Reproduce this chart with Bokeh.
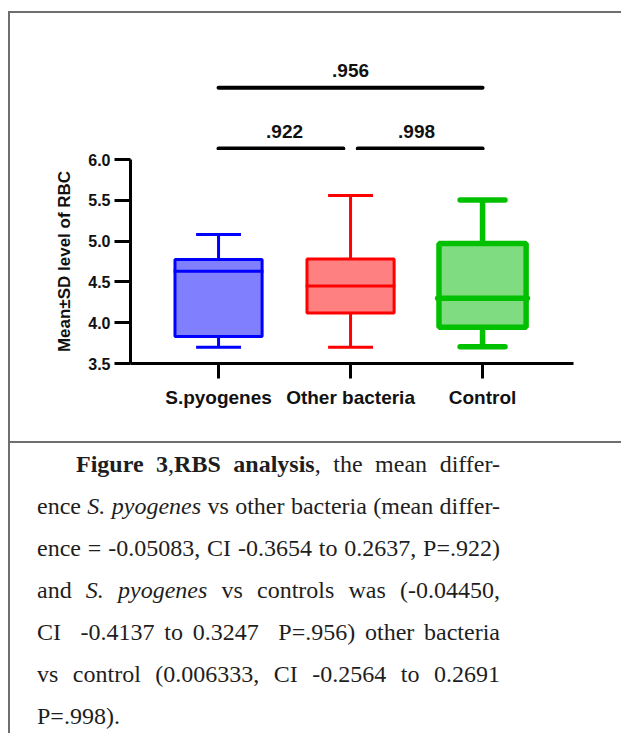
from bokeh.plotting import figure
from bokeh.models import FixedTicker, Div, Range1d, Spacer
from bokeh.layouts import column, row
from bokeh.embed import file_html
from bokeh.resources import INLINE
from bokeh.core.properties import value

# ---------------- data ----------------
categories = ["S.pyogenes", "Other bacteria", "Control"]
positions = [1, 2, 3]
q1 = [3.83, 4.12, 3.945]
median = [4.63, 4.45, 4.30]
q3 = [4.775, 4.78, 4.97]
whisker_low = [3.70, 3.70, 3.705]
whisker_high = [5.08, 5.56, 5.505]

y_ticks = [3.5, 4.0, 4.5, 5.0, 5.5, 6.0]
y_tick_labels = ["3.5", "4.0", "4.5", "5.0", "5.5", "6.0"]
y_title = "Mean±SD level of RBC"

comp_left = [1, 2, 1]
comp_right = [2, 3, 3]
comp_level = [6.135, 6.135, 6.88]
comp_p = [".922", ".998", ".956"]

caption_lines = [
    "<b>Figure 3</b>,<b>RBS analysis</b>, the mean differ-",
    "ence <i>S. pyogenes</i> vs other bacteria (mean differ-",
    "ence = -0.05083, CI -0.3654 to 0.2637, P=.922)",
    "and <i>S. pyogenes</i> vs controls was (-0.04450,",
    "CI &nbsp;-0.4137 to 0.3247 &nbsp;P=.956) other bacteria",
    "vs control (0.006333, CI -0.2564 to 0.2691",
    "P=.998).",
]

# ---------------- style ----------------
stroke = ["#0000FF", "#FF0000", "#00C000"]
fill = ["#8080FF", "#FF8080", "#80DC80"]
lw = [3, 3, 5.5]
caps = ["butt", "butt", "round"]
box_w = 0.66
cap_w = 0.34
gap = 0.055
FONT = "Liberation Sans"
GRAY = "#6e6e6e"
BORDER = f"2px solid {GRAY}"

LEFT = 8           # page x of the frame's left rule
TOP = 11           # page y of the frame's top rule
W = 611            # width of both chart figures
H_TOP = 137        # significance-bar strip
H_MAIN = 291       # box-plot figure
MT_MAIN = 9
PX_PER_UNIT = 81.6
ML, MR = 120, 48
x_range = Range1d(0.333, 3.689)


def clean(fig):
    fig.grid.visible = False
    fig.outline_line_color = None
    fig.background_fill_color = "white"
    fig.border_fill_color = "white"


# ---------- top strip: comparison bars ----------
top_lo = y_ticks[-1] + MT_MAIN / PX_PER_UNIT
top = figure(width=W, height=H_TOP, x_range=x_range,
             y_range=Range1d(top_lo, top_lo + H_TOP / PX_PER_UNIT),
             output_backend="svg", toolbar_location=None,
             min_border_left=ML, min_border_right=MR, min_border_top=0, min_border_bottom=0)
clean(top)
top.axis.visible = False

x0s, x1s, mids = [], [], []
for i in range(len(comp_p)):
    a, b = comp_left[i], comp_right[i]
    for j in range(len(comp_p)):
        if j != i and comp_level[j] == comp_level[i]:
            if comp_right[j] == a:
                a += gap
            if comp_left[j] == b:
                b -= gap
    x0s.append(a)
    x1s.append(b)
    mids.append((comp_left[i] + comp_right[i]) / 2)
top.segment(x0=x0s, x1=x1s, y0=comp_level, y1=comp_level,
            line_color="black", line_width=4, line_cap="round")
top.text(x=mids, y=comp_level, text=comp_p, y_offset=-17,
         text_align="center", text_baseline="middle",
         text_font=value(FONT), text_font_style="bold", text_font_size="19px",
         text_color="#111111")

# ---------- main box plot ----------
p = figure(width=W, height=H_MAIN, x_range=x_range,
           y_range=Range1d(y_ticks[0], y_ticks[-1]),
           output_backend="svg", toolbar_location=None,
           min_border_left=ML, min_border_right=MR,
           min_border_top=MT_MAIN, min_border_bottom=78)
clean(p)

for i in range(len(categories)):
    x = positions[i]
    p.segment(x0=[x, x], y0=[q3[i], q1[i]], x1=[x, x], y1=[whisker_high[i], whisker_low[i]],
              line_color=stroke[i], line_width=lw[i])
    p.segment(x0=[x - cap_w / 2] * 2, x1=[x + cap_w / 2] * 2,
              y0=[whisker_high[i], whisker_low[i]], y1=[whisker_high[i], whisker_low[i]],
              line_color=stroke[i], line_width=lw[i], line_cap=caps[i])
    p.vbar(x=[x], width=box_w, bottom=[q1[i]], top=[q3[i]],
           fill_color=fill[i], line_color=stroke[i], line_width=lw[i])
    p.segment(x0=[x - box_w / 2 - 0.01], x1=[x + box_w / 2 + 0.01],
              y0=[median[i]], y1=[median[i]],
              line_color=stroke[i], line_width=lw[i], line_cap=caps[i])

yax = p.yaxis[0]
yax.ticker = FixedTicker(ticks=y_ticks)
yax.major_label_overrides = {t: l for t, l in zip(y_ticks, y_tick_labels)}
yax.minor_tick_line_color = None
yax.axis_line_width = 3
yax.major_tick_line_width = 3
yax.major_tick_out = 16
yax.major_tick_in = 0
yax.major_label_standoff = 4
yax.major_label_text_font = FONT
yax.major_label_text_font_style = "bold"
yax.major_label_text_font_size = "16px"
yax.major_label_text_color = "#111111"
yax.axis_label = y_title
yax.axis_label_text_font = FONT
yax.axis_label_text_font_style = "bold"
yax.axis_label_text_font_size = "17px"
yax.axis_label_standoff = 11
yax.axis_label_text_color = "#111111"

xax = p.xaxis[0]
xax.ticker = FixedTicker(ticks=positions)
xax.major_label_overrides = {pos: c for pos, c in zip(positions, categories)}
xax.minor_tick_line_color = None
xax.axis_line_width = 3
xax.major_tick_line_width = 3
xax.major_tick_out = 15
xax.major_tick_in = 0
xax.major_label_standoff = 8
xax.major_label_text_font = FONT
xax.major_label_text_font_style = "bold"
xax.major_label_text_font_size = "19px"
xax.major_label_text_color = "#111111"

# ---------- frame lines ----------
top_space = Spacer(width=W + 2, height=TOP, margin=0)
top_line = Div(text="", width=W + 2, height=2, margin=(0, 0, 0, LEFT),
               styles={"background-color": GRAY})
left_line = Div(text="", width=2, height=H_TOP + H_MAIN, margin=(0, 0, 0, LEFT),
                styles={"background-color": GRAY})

# ---------- caption ----------
rows = []
for k, line in enumerate(caption_lines):
    last = k == len(caption_lines) - 1
    align = "left" if last else "justify"
    indent = "39px" if k == 0 else "0"
    rows.append(
        f'<div style="text-align:{align};text-align-last:{align};'
        f'text-indent:{indent};">{line}</div>')
html = ('<div style="box-sizing:content-box;margin:0 0 0 27px;padding:0;width:463px;'
        'font-family:\'Liberation Serif\';font-size:24px;line-height:42px;color:#1e1e1e;">'
        + "".join(rows) + '</div>')
cap_h = 733 - (TOP + 2 + H_TOP + H_MAIN)
cap = Div(text=html, width=W + 2, height=cap_h, margin=(0, 0, 0, LEFT),
          styles={"border-top": BORDER, "border-left": BORDER, "overflow": "hidden"})

charts = column(top, p, spacing=0)
layout = column(top_space, top_line, row(left_line, charts, spacing=0), cap, spacing=0)
open("out.html", "w").write(file_html(layout, INLINE))
